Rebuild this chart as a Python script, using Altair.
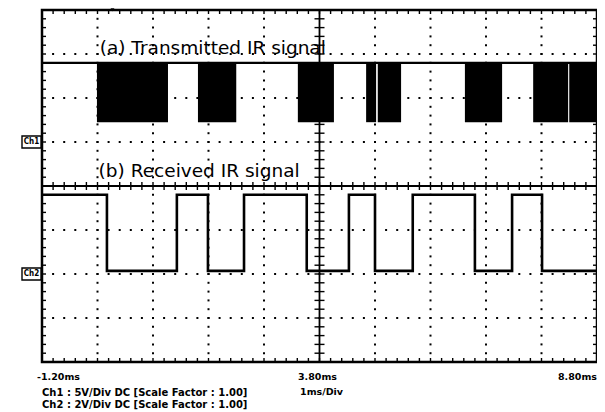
import altair as alt
import numpy as np
import pandas as pd

# ---------------- data ----------------
# time axis (ms): -1.20 .. 8.80, 1 ms/div ; vertical: 8 divisions
time_labels = ["-1.20ms", "3.80ms", "8.80ms"]
time_label_pos = [-1.2, 3.8, 8.8]

# (a) transmitted IR signal: bursts (start, end) in ms
tx_start = [-0.21, 1.61, 3.41, 4.64, 4.85, 6.42, 7.65, 8.30]
tx_end = [1.07, 2.30, 4.06, 4.82, 5.27, 7.09, 8.28, 8.80]
tx_level = 6.80   # baseline (div)
tx_burst = 5.45   # burst bottom (div)

# (b) received IR signal: edges (ms) and level after each edge (div)
rx_t = [-1.2, -0.03, 1.23, 1.79, 2.44, 3.57, 4.33, 4.80, 5.48, 6.60, 7.27, 7.81, 8.8]
rx_v = [3.80, 2.07, 3.80, 2.07, 3.80, 2.07, 3.80, 2.07, 3.80, 2.07, 3.80, 2.07, 2.07]

titles = ["(a) Transmitted IR signal", "(b) Received IR signal"]
title_t = [-0.16, -0.18]
title_v = [7.0, 4.2]

info_lines = ["Ch1 : 5V/Div  DC  [Scale Factor : 1.00]",
              "Ch2 : 2V/Div  DC  [Scale Factor : 1.00]"]
channels = ["Ch1", "Ch2"]
channel_v = [5.0, 2.0]

T0, T1 = -1.2, 8.8
V0, V1 = 0.0, 8.0
PXT = 1 / 55.5   # ms per pixel
PXV = 1 / 44.0   # div per pixel

xs = alt.Scale(domain=[T0, T1], nice=False, zero=False)
ys = alt.Scale(domain=[V0, V1], nice=False, zero=False)
X = lambda f="t": alt.X(f, type="quantitative", scale=xs, axis=None)
Y = lambda f="v": alt.Y(f, type="quantitative", scale=ys, axis=None)

# ---------------- graticule (dotted grid) ----------------
dots = []
for v in [1, 2, 3, 5, 6, 7]:
    for k in range(1, 50):
        dots.append((T0 + 0.2 * k, v))
for t in [-0.2, 0.8, 1.8, 2.8, 4.8, 5.8, 6.8, 7.8]:
    for k in range(1, 40):
        dots.append((t, 0.2 * k))
dots_df = pd.DataFrame(dots, columns=["t", "v"])
grid = alt.Chart(dots_df).mark_square(size=4, color="black", opacity=1).encode(x=X(), y=Y())

# ---------------- ticks on frame and centre axes ----------------
segs = []
for k in range(1, 50):
    t = T0 + 0.2 * k
    segs.append((t, t, V1, V1 - 4 * PXV))          # top edge
    segs.append((t, t, V0, V0 + 4 * PXV))          # bottom edge
    segs.append((t, t, 4 - 4 * PXV, 4 + 4 * PXV))  # centre horizontal
for k in range(1, 40):
    v = 0.2 * k
    segs.append((T0, T0 + 4 * PXT, v, v))          # left edge
    segs.append((T1, T1 - 4 * PXT, v, v))          # right edge
    segs.append((3.8 - 5 * PXT, 3.8 + 5 * PXT, v, v))  # centre vertical
segs_df = pd.DataFrame(segs, columns=["t", "t2", "v", "v2"])
ticks = alt.Chart(segs_df).mark_rule(color="black", strokeWidth=1.4).encode(
    x=X(), x2="t2", y=Y(), y2="v2")

axes_df = pd.DataFrame({"t": [T0, 3.8], "t2": [T1, 3.8], "v": [4.0, V0], "v2": [4.0, V1]})
centre = alt.Chart(axes_df).mark_rule(color="black", strokeWidth=1.8).encode(
    x=X(), x2="t2", y=Y(), y2="v2")

# ---------------- signals ----------------
base_df = pd.DataFrame({"t": [T0], "t2": [T1], "v": [tx_level]})
tx_base = alt.Chart(base_df).mark_rule(color="black", strokeWidth=2.2).encode(
    x=X(), x2="t2", y=Y())

burst_df = pd.DataFrame({"t": tx_start, "t2": tx_end,
                         "v": [tx_level] * len(tx_start), "v2": [tx_burst] * len(tx_start)})
bursts = alt.Chart(burst_df).mark_rect(color="black").encode(
    x=X(), x2="t2", y=Y(), y2="v2")

rx_df = pd.DataFrame({"t": rx_t, "v": rx_v})
rx = alt.Chart(rx_df).mark_line(color="black", strokeWidth=2.6, interpolate="step-after").encode(
    x=X(), y=Y())

# ---------------- texts ----------------
title_df = pd.DataFrame({"t": title_t, "v": title_v, "text": titles})
title_txt = alt.Chart(title_df).mark_text(
    align="left", baseline="alphabetic", font="DejaVu Sans", fontSize=18.5, color="black"
).encode(x=X(), y=Y(), text="text")

FONT = "DejaVu Sans"
lab_df = pd.DataFrame({"t": time_label_pos, "v": [-0.34] * 3, "text": time_labels})
lab_l = alt.Chart(lab_df.iloc[[0]]).mark_text(
    align="left", baseline="middle", font=FONT, fontWeight="bold",
    fontSize=9.5, dx=-5, color="black").encode(x=X(), y=Y(), text="text")
lab_c = alt.Chart(lab_df.iloc[[1]]).mark_text(
    align="center", baseline="middle", font=FONT, fontWeight="bold",
    fontSize=9.5, dx=-2, color="black").encode(x=X(), y=Y(), text="text")
lab_r = alt.Chart(lab_df.iloc[[2]]).mark_text(
    align="right", baseline="middle", font=FONT, fontWeight="bold",
    fontSize=9.5, dx=0, color="black").encode(x=X(), y=Y(), text="text")

info_df = pd.DataFrame({"t": [T0, T0], "v": [-0.70, -0.98], "text": info_lines})
info = alt.Chart(info_df).mark_text(
    align="left", baseline="middle", font=FONT, fontWeight="bold",
    fontSize=10, color="black").encode(x=X(), y=Y(), text="text")

div_df = pd.DataFrame({"t": [3.45], "v": [-0.68], "text": ["1ms/Div"]})
divtxt = alt.Chart(div_df).mark_text(
    align="left", baseline="middle", font=FONT, fontWeight="bold",
    fontSize=9.5, color="black").encode(x=X(), y=Y(), text="text")

# channel markers
ch_df = pd.DataFrame({"t": [T0 - 20 * PXT] * 2, "t2": [T0 - 1 * PXT] * 2,
                      "v": [c - 6 * PXV for c in channel_v], "v2": [c + 6 * PXV for c in channel_v],
                      "tc": [T0 - 10.5 * PXT] * 2, "vc": channel_v, "text": channels})
ch_box = alt.Chart(ch_df).mark_rect(fill="white", stroke="black", strokeWidth=1.4).encode(
    x=X(), x2="t2", y=Y(), y2="v2")
ch_txt = alt.Chart(ch_df).mark_text(
    align="center", baseline="middle", font="DejaVu Sans Condensed", fontWeight="bold",
    fontSize=8, color="black").encode(x=X("tc"), y=Y("vc"), text="text")

trig_df = pd.DataFrame({"t": [0.07], "v": [8.05]})
trig = alt.Chart(trig_df).mark_point(shape="triangle-down", size=25, filled=False,
                                     color="black", strokeWidth=1.5).encode(x=X(), y=Y())

chart = alt.layer(
    grid, centre, ticks, tx_base, bursts, rx, title_txt,
    lab_l, lab_c, lab_r, info, divtxt, ch_box, ch_txt, trig
).properties(
    width=555, height=352,
    padding={"left": 34, "top": 2, "right": 0, "bottom": 50},
    autosize=alt.AutoSizeParams(type="none"),
    background="white",
).configure_view(stroke="black", strokeWidth=2.5)

chart.save("out.html", embed_options={"renderer": "svg", "actions": False})
